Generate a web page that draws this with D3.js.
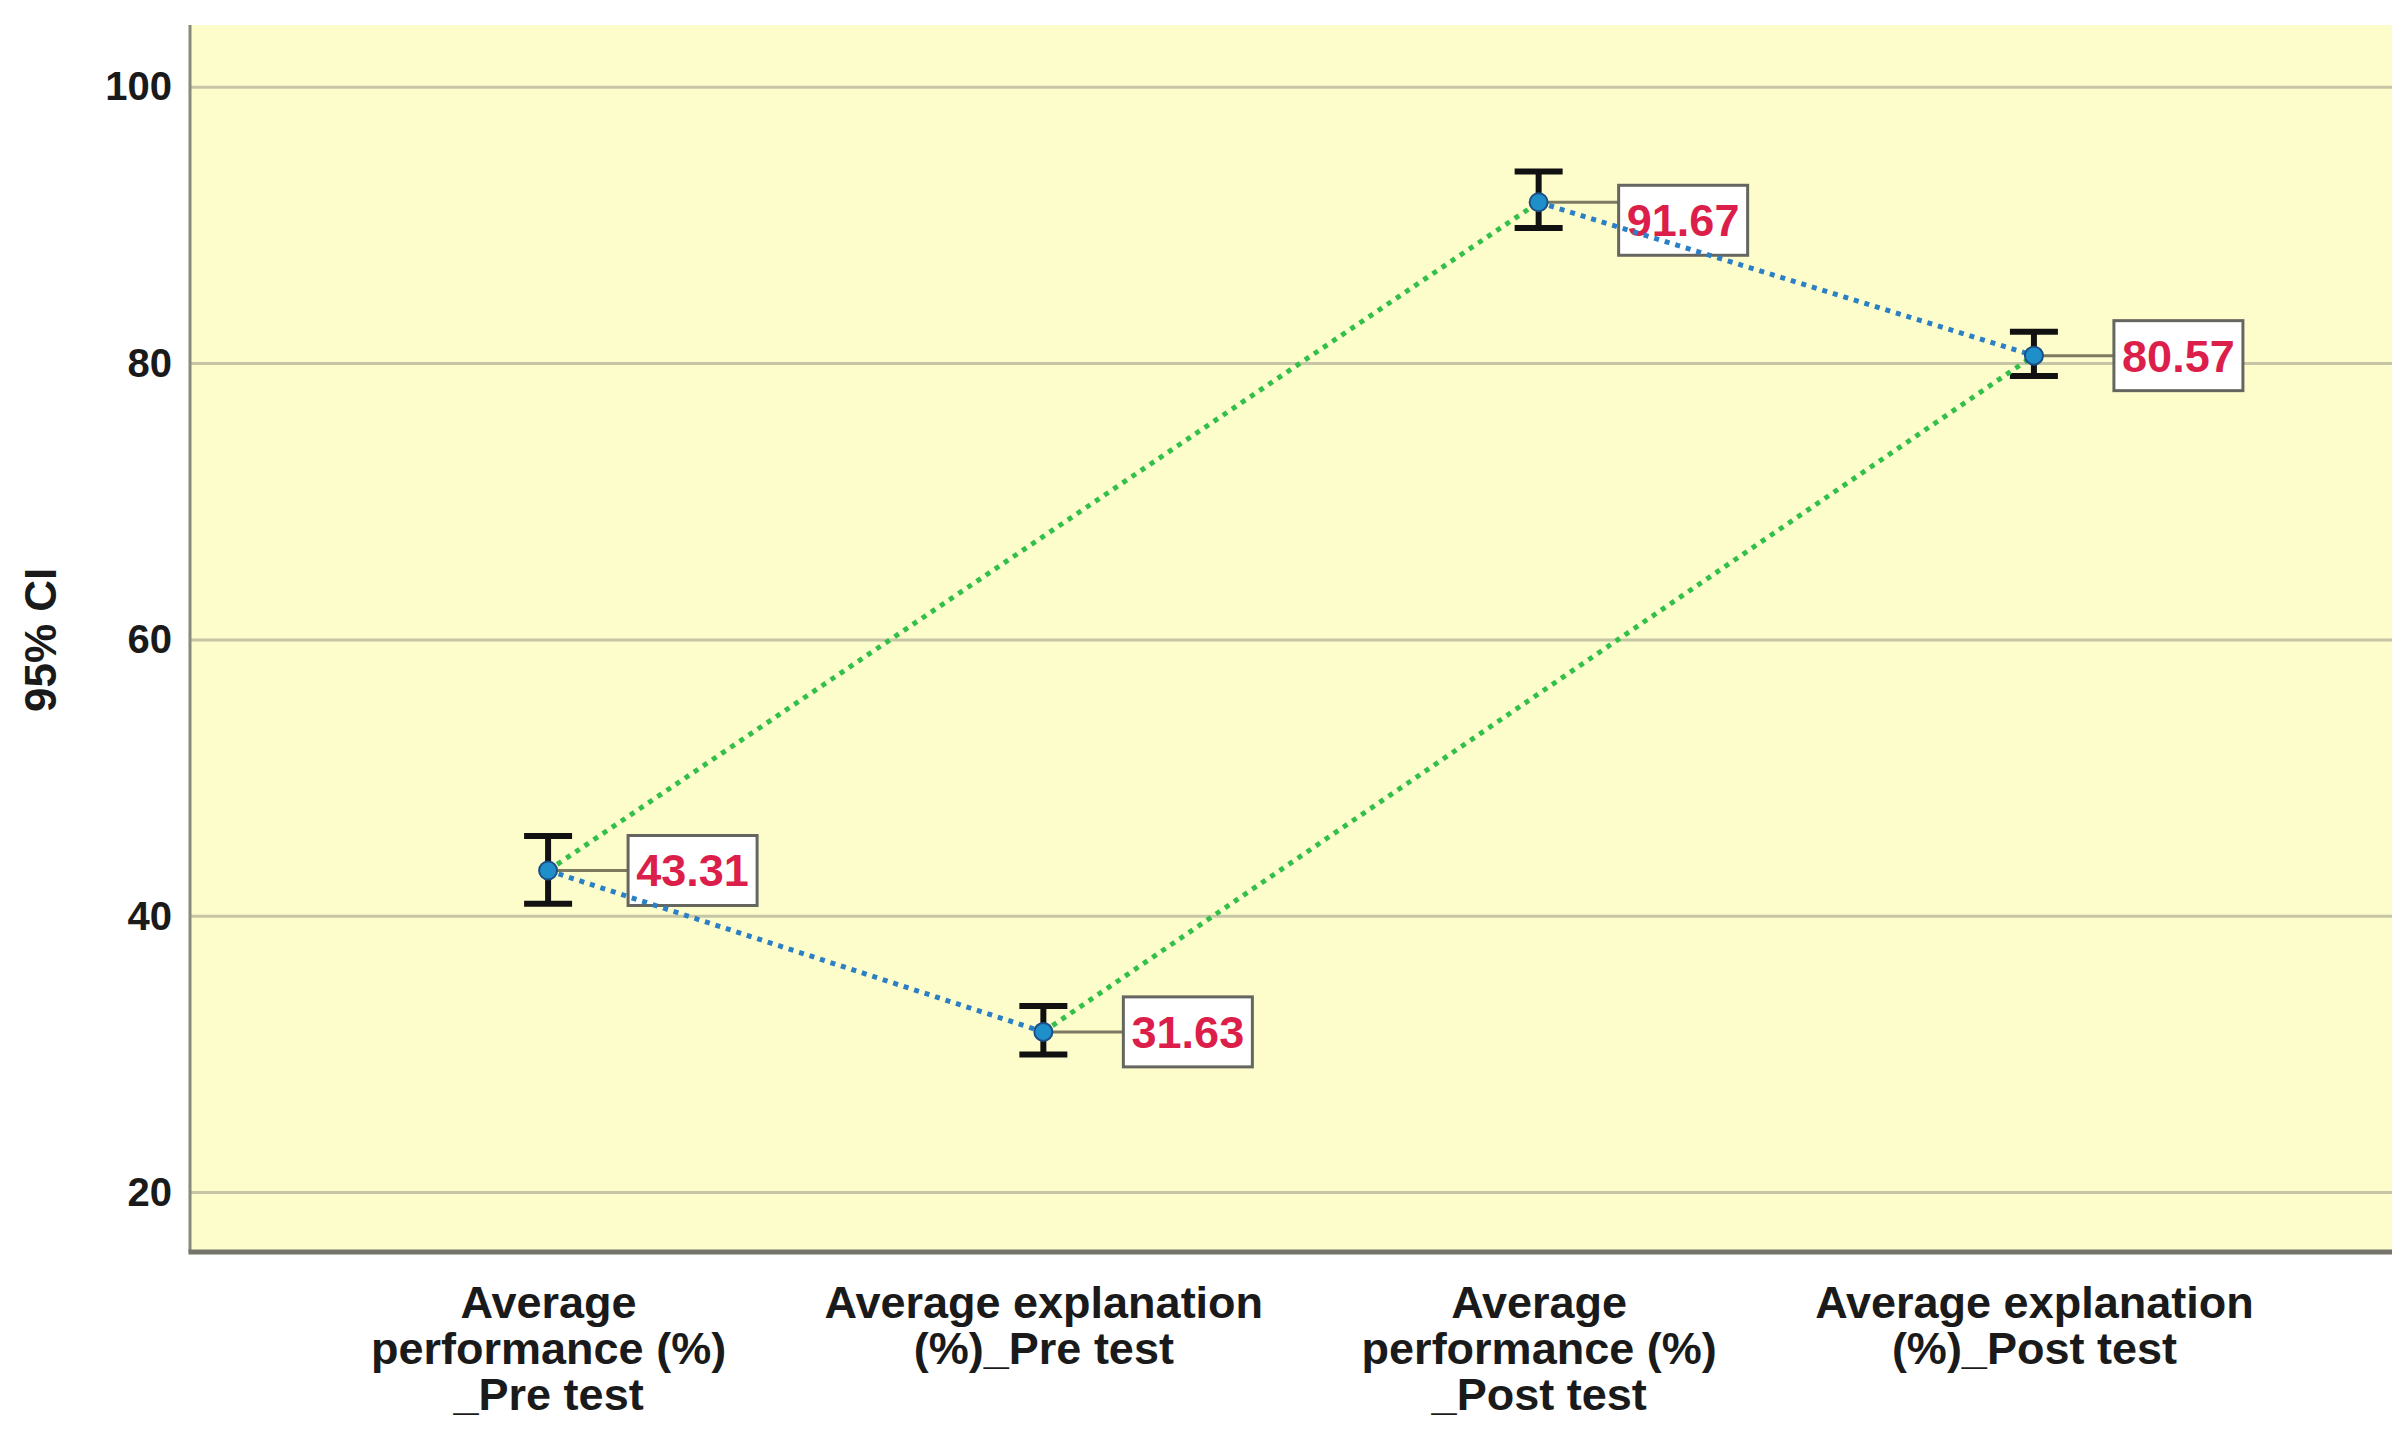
<!DOCTYPE html>
<html>
<head>
<meta charset="utf-8">
<script src="https://cdn.jsdelivr.net/npm/d3@7"></script>
<style>
  html, body { margin: 0; padding: 0; background: #ffffff; }
  svg { display: block; }
</style>
</head>
<body>
<svg id="chart" width="2408" height="1431"></svg>
<script>
// ---- data ----
const categories = ["perfPre", "explPre", "perfPost", "explPost"];
const categoryLabels = [
  ["Average", "performance (%)", "_Pre test"],
  ["Average explanation", "(%)_Pre test"],
  ["Average", "performance (%)", "_Post test"],
  ["Average explanation", "(%)_Post test"]
];
const means   = [43.31, 31.63, 91.67, 80.57];
const ciLower = [40.9, 30.0, 89.8, 79.1];
const ciUpper = [45.8, 33.5, 93.9, 82.3];
const valueLabels = ["43.31", "31.63", "91.67", "80.57"];
const yTicks = [20, 40, 60, 80, 100];
const yTitle = "95% CI";
const greenPairs = [[0, 2], [1, 3]];
const bluePairs  = [[0, 1], [2, 3]];

// ---- layout ----
const plot = { left: 190, right: 2392, top: 25, bottom: 1252 };
const labelNudge = [0, 0, 18, 0]; // vertical nudge of label boxes (layout only)

const svg = d3.select("#chart");
const x = d3.scalePoint().domain(categories).range([plot.left, plot.right]).padding(0.723);
const y = d3.scaleLinear().domain([15.7, 104.5]).range([plot.bottom, plot.top]);

const font = "'Liberation Sans', Arial, sans-serif";

// background
svg.append("rect")
  .attr("x", plot.left).attr("y", plot.top)
  .attr("width", plot.right - plot.left).attr("height", plot.bottom - plot.top)
  .attr("fill", "#fdfdcc");

// gridlines
svg.append("g").selectAll("line").data(yTicks).join("line")
  .attr("x1", plot.left).attr("x2", plot.right)
  .attr("y1", d => y(d)).attr("y2", d => y(d))
  .attr("stroke", "#c6c6a6").attr("stroke-width", 3);

// y axis
const yAxis = d3.axisLeft(y).tickValues(yTicks).tickSize(0).tickPadding(18);
const yg = svg.append("g").attr("transform", `translate(${plot.left},0)`).call(yAxis);
yg.select(".domain").remove();
yg.selectAll("text")
  .attr("font-family", font).attr("font-size", 40).attr("font-weight", "bold")
  .attr("fill", "#1a1a1a");

// axis lines
svg.append("line")
  .attr("x1", plot.left).attr("x2", plot.left)
  .attr("y1", plot.top).attr("y2", plot.bottom)
  .attr("stroke", "#8a8a78").attr("stroke-width", 3);
svg.append("line")
  .attr("x1", plot.left - 1.5).attr("x2", plot.right)
  .attr("y1", plot.bottom).attr("y2", plot.bottom)
  .attr("stroke", "#74746a").attr("stroke-width", 5);

// y title
svg.append("text")
  .attr("transform", `translate(56,${(y(20) + y(100)) / 2}) rotate(-90)`)
  .attr("text-anchor", "middle")
  .attr("font-family", font).attr("font-size", 44).attr("font-weight", "bold")
  .attr("fill", "#1a1a1a")
  .text(yTitle);

// x category labels
const xAxis = d3.axisBottom(x).tickSize(0).tickFormat(() => "");
const xg = svg.append("g").attr("transform", `translate(0,${plot.bottom})`).call(xAxis);
xg.select(".domain").remove();
xg.selectAll(".tick").each(function(d, i) {
  const t = d3.select(this).append("text")
    .attr("text-anchor", "middle")
    .attr("font-family", font).attr("font-size", 45).attr("font-weight", "bold")
    .attr("fill", "#1a1a1a");
  categoryLabels[i].forEach((line, j) => {
    t.append("tspan").attr("x", 0).attr("y", 66 + j * 46).text(line);
  });
});

const idx = d3.range(categories.length);

// label boxes + leader lines
const boxW = 129, boxH = 70, boxOff = 80;
const lab = svg.append("g");
idx.forEach(i => {
  const cx = x(categories[i]), cy = y(means[i]);
  const bx = cx + boxOff, by = cy + labelNudge[i] - boxH / 2;
  lab.append("line")
    .attr("x1", cx).attr("x2", bx).attr("y1", cy).attr("y2", cy)
    .attr("stroke", "#7d7a62").attr("stroke-width", 3);
  lab.append("rect")
    .attr("x", bx).attr("y", by).attr("width", boxW).attr("height", boxH)
    .attr("fill", "#ffffff").attr("stroke", "#666660").attr("stroke-width", 3);
  lab.append("text")
    .attr("x", bx + boxW / 2).attr("y", by + boxH / 2 + 16)
    .attr("text-anchor", "middle")
    .attr("font-family", font).attr("font-size", 45).attr("font-weight", "bold")
    .attr("fill", "#dc1e4a")
    .text(valueLabels[i]);
});

// error bars
const capW = 48;
const eb = svg.append("g").attr("stroke", "#111111").attr("stroke-width", 6);
idx.forEach(i => {
  const cx = x(categories[i]);
  eb.append("line").attr("x1", cx).attr("x2", cx).attr("y1", y(ciLower[i])).attr("y2", y(ciUpper[i]));
  eb.append("line").attr("x1", cx - capW / 2).attr("x2", cx + capW / 2).attr("y1", y(ciLower[i])).attr("y2", y(ciLower[i]));
  eb.append("line").attr("x1", cx - capW / 2).attr("x2", cx + capW / 2).attr("y1", y(ciUpper[i])).attr("y2", y(ciUpper[i]));
});

// connecting dotted lines
function drawPairs(pairs, color) {
  svg.append("g").selectAll("line").data(pairs).join("line")
    .attr("x1", d => x(categories[d[0]])).attr("y1", d => y(means[d[0]]))
    .attr("x2", d => x(categories[d[1]])).attr("y2", d => y(means[d[1]]))
    .attr("stroke", color).attr("stroke-width", 5)
    .attr("stroke-dasharray", "5 6");
}
drawPairs(greenPairs, "#33c04a");
drawPairs(bluePairs, "#2b7fc4");

// points
svg.append("g").selectAll("circle").data(idx).join("circle")
  .attr("cx", i => x(categories[i])).attr("cy", i => y(means[i]))
  .attr("r", 9)
  .attr("fill", "#1e8fc8").attr("stroke", "#1d4f86").attr("stroke-width", 2);
</script>
</body>
</html>
